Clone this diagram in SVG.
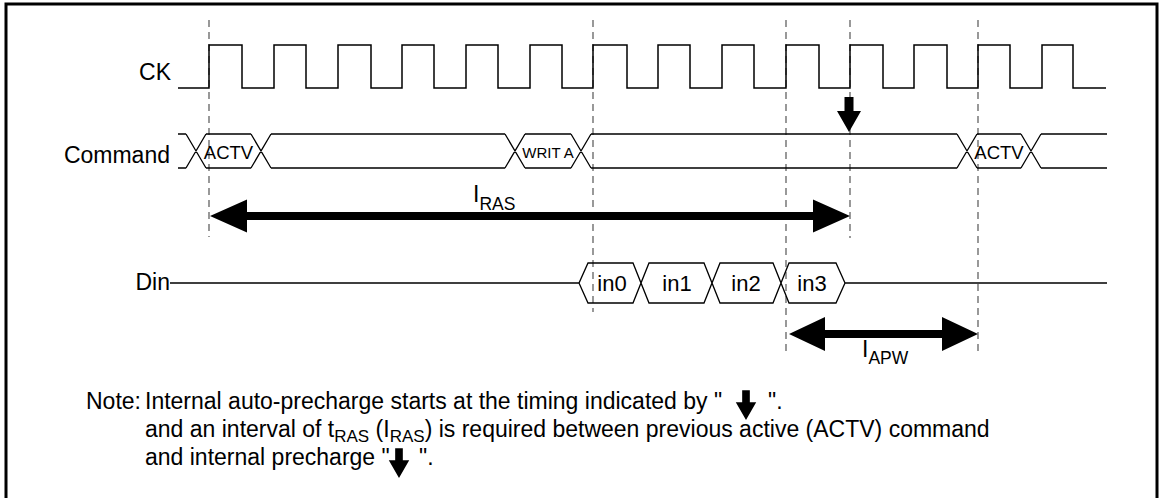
<svg xmlns="http://www.w3.org/2000/svg" width="1163" height="498" viewBox="0 0 1163 498">
<defs>
<style>
.lbl{font-family:"Liberation Sans",Arial,sans-serif;font-size:23px;fill:#000}
.cmd{font-family:"Liberation Sans",Arial,sans-serif;fill:#000;text-anchor:middle}
.sig{fill:none;stroke:#000;stroke-width:1.5}
.bus{fill:none;stroke:#000;stroke-width:1.3}
.dash{fill:none;stroke:#555;stroke-width:1.2;stroke-dasharray:7 5}
.big{fill:#000;stroke:none}
</style>
<path id="darrow" d="M-4.5,-35 H4.5 V-21 H12 L0,0 L-12,-21 H-4.5 Z"/>
</defs>
<rect x="6" y="4" width="1151" height="510" fill="#fff" stroke="#000" stroke-width="3"/>

<g id="guides">
<line class="dash" x1="209" y1="20" x2="209" y2="237"/>
<line class="dash" x1="593" y1="20" x2="593" y2="312"/>
<line class="dash" x1="786" y1="20" x2="786" y2="352"/>
<line class="dash" x1="850" y1="20" x2="850" y2="238"/>
<line class="dash" x1="978" y1="20" x2="978" y2="352"/>
</g>

<g id="ck">
<text class="lbl" x="171" y="80" text-anchor="end">CK</text>
<path class="sig" d="M178,88 H209 V45 H242 V88 H274 V45 H306 V88 H338 V45 H371 V88 H402 V45 H434 V88 H466 V45 H498 V88 H530 V45 H562 V88 H593 V45 H627 V88 H658 V45 H690 V88 H722 V45 H754 V88 H786 V45 H819 V88 H850 V45 H883 V88 H914 V45 H947 V88 H978 V45 H1010 V88 H1042 V45 H1073 V88 H1106"/>
</g>

<g id="command">
<text class="lbl" x="170" y="163" text-anchor="end">Command</text>
<path class="bus" d="M178,134 H186 M206,134 H251 M271,134 H505 M525,134 H571 M591,134 H957 M977,134 H1021 M1041,134 H1107
M178,168 H186 M206,168 H251 M271,168 H505 M525,168 H571 M591,168 H957 M977,168 H1021 M1041,168 H1107
M186,134 L206,168 M186,168 L206,134
M251,134 L271,168 M251,168 L271,134
M505,134 L525,168 M505,168 L525,134
M571,134 L591,168 M571,168 L591,134
M957,134 L977,168 M957,168 L977,134
M1021,134 L1041,168 M1021,168 L1041,134"/>
<text class="cmd" x="228.5" y="159" font-size="18.5">ACTV</text>
<text class="cmd" x="548" y="157.5" font-size="15">WRIT A</text>
<text class="cmd" x="999" y="159" font-size="18.5">ACTV</text>
</g>

<g id="precharge-mark">
<use href="#darrow" x="849" y="132" class="big"/>
</g>

<g id="iras">
<polygon class="big" points="210,216 247,199.5 247,212 813,212 813,199.5 850,216 813,232.5 813,220 247,220 247,232.5"/>
<text class="lbl" x="473" y="202">I<tspan font-size="17.5" dy="8">RAS</tspan></text>
</g>

<g id="din">
<text class="lbl" x="170" y="290" text-anchor="end">Din</text>
<path class="bus" d="M170,283 H579 L588,263 H633 L649,303 H704 L720,263 H773 L789,303 H836 L845,283 L836,263 H789 L773,303 H720 L704,263 H649 L633,303 H588 L579,283 M845,283 H1107"/>
<text class="cmd" x="612" y="291" font-size="22">in0</text>
<text class="cmd" x="677" y="291" font-size="22">in1</text>
<text class="cmd" x="746" y="291" font-size="22">in2</text>
<text class="cmd" x="812" y="291" font-size="22">in3</text>
</g>

<g id="iapw">
<polygon class="big" points="789,334 825,317 825,330 942,330 942,317 978,334 942,351 942,338 825,338 825,351"/>
<text class="lbl" x="862" y="357">I<tspan font-size="17.5" dy="7">APW</tspan></text>
</g>

<g id="note">
<text class="lbl" x="86" y="409">Note:</text>
<text class="lbl" x="145" y="409">Internal auto-precharge starts at the timing indicated by "</text>
<use href="#darrow" transform="translate(746,420) scale(0.85)" class="big"/>
<text class="lbl" x="768" y="409">".</text>
<text class="lbl" x="145" y="437">and an interval of t<tspan font-size="17" dy="5">RAS</tspan><tspan dy="-5"> (I</tspan><tspan font-size="17" dy="5">RAS</tspan><tspan dy="-5">) is required between previous active (ACTV) command</tspan></text>
<text class="lbl" x="145" y="465">and internal precharge "</text>
<use href="#darrow" transform="translate(399,478) scale(0.85)" class="big"/>
<text class="lbl" x="419" y="465">".</text>
</g>
</svg>
